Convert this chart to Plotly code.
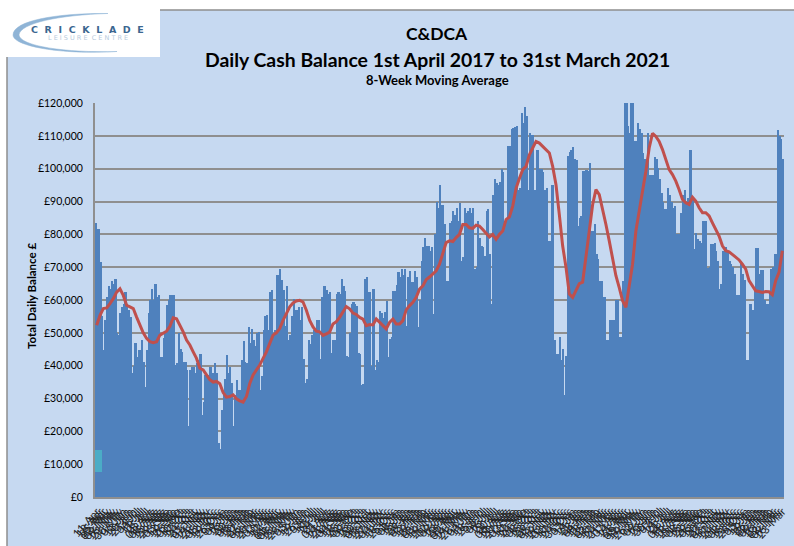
import pandas as pd
import plotly.graph_objects as go

W, H = 794, 546
dates = pd.date_range("2017-04-11", "2021-03-23", freq="7D")
tick_labels = [d.strftime("%d-%b") for d in dates]
week_index = list(range(len(dates)))

# Two readings per week (GBP thousands)
balance_k = [
 83.6,81.6, 81.6,71.5, 55,44.7, 53.8,60.9, 64.4,63.4, 65.9,64.9, 66.5,49.8, 49.3,56, 57.9,58.9, 62.4,58.9,
 56.9,54.8, 37.7,40, 46.8,42.7, 44.7,44.7, 47.8,41, 33.6,44.7, 55.9,59.9, 63.4,60, 65,60.9, 61.4,42.7,
 42.7,48.3, 49.8,58.4, 60,61.4, 61.4,61.4, 40.2,40.7, 49.8,45.2, 44.2,41.2, 41.2,38.7, 21.5,38.7, 39.7,39.7,
 37.7,40.7, 41.7,43.7, 25,29, 37.2,37.2, 37.2,39.7, 37.7,37.7, 40.7,37.7, 16.5,14.5, 26.5,31.5, 36,43.2,
 37.7,39.7, 34.7,21.5, 31,35.7, 32.6,32.6, 41.7,47.5, 41,40.7, 51.8,47, 51.3,47.8, 46,50, 50.3,32.6,
 37,50.8, 55,55.4, 50.8,62.4, 62.9,49.8, 50.8,67.5, 67.5,69.5, 66,62.9, 52,64.4, 47.8,49.3, 55,60.4,
 57,56.9, 57.9,54, 57.9,42, 34.6,36, 47.8,46.5, 49.3,50.8, 50.3,53.8, 53.8,42, 60.8,64.3, 64.3,63,
 61.8,62.3, 44,47.7, 47.7,61.8, 62.3,61.8, 66.4,64.3, 62.8,43, 42.6,50, 58.8,59.3, 58.8,58.3, 44,43.6,
 34,34.5, 66.4,66.9, 62.3,62.3, 40,63.3, 38.6,41.6, 41,56.8, 56,54.5, 56.3,59.8, 42.6,48, 48.7,62.8,
 62.8,64.5, 68.4,67, 69.4,67.5, 69.4,52.2, 67,68.9, 65.4,65.4, 68.9,67, 51.7,60, 72,76, 79,76.5,
 76.5,75, 76,55.8, 80,90, 88,95, 89,89, 83,65.9, 65.9,83.5, 84,87, 86,88, 84,89.5,
 71.9,73, 88,86.5, 87,88, 86.5,88, 69.4,70, 84,79, 76.5,76, 73.4,87, 87.6,74, 58.8,92,
 97,95.7, 95,96, 100,99, 84,84, 107,107, 112,112.5, 112.8,113, 93.6,94, 117,114, 118.9,116,
 93.5,111, 110.3,110.3, 93.6,105.8, 105.8,100, 100,99, 93.6,94, 78,78, 95,95, 47.7,43.6, 43.6,48.7,
 41.6,45, 31,43, 104,105, 105.7,106.5, 103,102.7, 82.5,85, 85.5,99.2, 99.2,99.5, 99.2,101.7, 81,81,
 83,74, 72.4,65.9, 65.9,60.8, 60.8,47.7, 47.7,53.9, 53.9,53.9, 53.9,60, 60,48.7, 48.7,65.9, 120,120,
 113,111, 120,120, 108.5,108.3, 114,112, 111,104.7, 103,99.5, 111,98.2, 98,98.2, 103.7,103, 100.2,97,
 92.6,90, 87.6,87.6, 94,92, 90,88, 88.6,80, 80,80, 86.6,92, 93.6,90, 91,105.8, 105.8,91,
 75.5,80.5, 78.5,78, 77.5,84, 84,84, 69.9,70, 77,77, 77.5,75, 72,63.3, 65,75, 76,76,
 75,72, 71,70, 68,61.6, 61.6,61.6, 71.9,68, 66,41.6, 41.6,58.8, 58.8,57, 62.8,75.8, 75.8,68,
 69,69, 60,58.8, 58.8,62, 69.4,70, 73.9,74, 111.8,110, 109,103,
]
moving_average_k = [
 52.3,55.3,57.4,57.6,58.9,60.4,62.4,63.4,61.4,58.4,57.9,57.4,54.8,52.3,50,48.3,47.3,47,47.3,49.3,
 50,50.5,52,54.6,54.3,52.3,50.3,47.8,46.3,44.2,42.2,39.2,38.7,37.2,35.7,35,35.2,34.5,31.8,30.4,
 30.6,31.1,29.9,29.3,28.9,30.6,34.6,37.2,38.7,40.2,42.2,44.2,46.8,49.3,50,51.3,53.8,55.9,57.9,59.1,
 59.7,59.9,59.4,56.9,53.8,51.8,50.5,50.3,49.2,49.7,50.2,52.7,53.4,54.7,56.3,58,57.3,56,55.6,54.7,
 54.2,52.2,52.5,52.4,54.2,53.2,51.9,51.2,53.2,54.2,52.7,52.7,53.7,57,58.3,59.3,60.8,63.3,64.3,66.2,
 67,67.9,68.9,70.9,73.9,77.5,78,77.8,79,80,83,83,82,81.8,82.8,82.5,81.5,80.2,79.2,80,
 78.5,80,81,84.5,85.3,88.6,94,97,99.7,100.7,104.2,106.3,108.3,107.8,106.8,105.5,104.8,100.7,95.1,86,
 76.5,70,61.8,60.8,62.8,65,65.4,73.9,81,89,93.6,92.1,87,83,78,72.4,67.4,63.8,59.8,57.8,
 63.8,70.9,81,87,92.1,99.2,106.3,110.8,109.8,108.3,105.8,102.7,99.7,98.2,96.2,93.6,90.6,89.6,89.1,91.3,
 90.1,88.1,86.6,86.6,85.6,83.5,81.5,79.5,76.5,75,74.7,73.9,73.2,72.2,70.9,69.4,65.9,64.3,62.8,62.6,
 62.3,62.6,62.5,61.6,65.9,68.4,75,
]
teal_base_k = [7.6, 7.6]
teal_height_k = [6.7, 6.7]
y_ticks = [0, 10, 20, 30, 40, 50, 60, 70, 80, 90, 100, 110, 120]

FONT = "Lato"
BG = "#c6d9f1"
GREY = "#8f8f8f"

def px(x):
    return x / W

def py(y):
    return 1 - y / H

def pt(x, y):
    return f"{px(x):.4f},{py(y):.4f}"

def pixel_text(text, x, y, size, color="#000000", bold=True, font=FONT):
    return dict(text=f"<b>{text}</b>" if bold else text, x=px(x), y=py(y), xref="paper", yref="paper",
                showarrow=False, xanchor="center", yanchor="middle",
                font=dict(family=font, size=size, color=color))

def spaced(text, gap):
    return gap.join(text)

half_x = [(j - 0.5) / 2 for j in range(len(balance_k))]

fig = go.Figure()
fig.add_bar(x=half_x, y=[v * 1000 for v in balance_k], marker=dict(color="#4f81bd", line_width=0), width=0.5)
fig.add_bar(x=[0, 1], y=[v * 1000 for v in teal_height_k], base=[v * 1000 for v in teal_base_k],
            marker=dict(color="#4bacc6", line_width=0), width=1.0)
fig.add_scatter(x=week_index, y=[v * 1000 for v in moving_average_k], mode="lines",
                line=dict(color="#c0504d", width=3))

crescent = (f"M {pt(108,13.5)} C {pt(60,13)} {pt(13,20)} {pt(13,35)} C {pt(13,46)} {pt(60,55)} {pt(117,51.5)} "
            f"C {pt(65,53)} {pt(20,46)} {pt(19,35)} C {pt(20,23)} {pt(60,15)} {pt(108,13.5)} Z")

fig.update_layout(
    width=W, height=H, autosize=False,
    margin=dict(l=0, r=0, t=0, b=0, pad=0),
    paper_bgcolor="#ffffff", plot_bgcolor="rgba(0,0,0,0)",
    showlegend=False, barmode="overlay", bargap=0,
    font=dict(family=FONT, color="#000000"),
    xaxis=dict(domain=[px(95), px(784)], range=[-0.5, len(week_index) - 0.5],
               tickmode="array", tickvals=week_index, ticktext=tick_labels, tickangle=-48,
               tickfont=dict(size=11, color="#222222"), ticklabelstandoff=2,
               showgrid=False, showline=True, linecolor=GREY, linewidth=2,
               ticks="", automargin=False, anchor="y", zeroline=False),
    yaxis=dict(domain=[py(497), py(103)], range=[0, 120000],
               tickmode="array", tickvals=[v * 1000 for v in y_ticks],
               ticktext=[f"£{v * 1000:,}" for v in y_ticks], tickfont=dict(size=10.5), ticklabelstandoff=8,
               showgrid=True, gridcolor=GREY, gridwidth=1.5, showline=True, linecolor=GREY, linewidth=2,
               zeroline=False, ticks="", automargin=False, anchor="x"),
    shapes=[
        dict(type="rect", xref="paper", yref="paper", layer="below", x0=px(7), x1=px(800), y0=py(10), y1=py(552),
             fillcolor=BG, line=dict(color=GREY, width=1.5)),
        dict(type="rect", xref="paper", yref="paper", layer="above", x0=0, x1=px(160), y0=py(0), y1=py(57),
             fillcolor="#ffffff", line_width=0),
        dict(type="path", xref="paper", yref="paper", layer="above", path=crescent,
             fillcolor="#8fb4d6", line=dict(color="#8fb4d6", width=0.5)),
    ],
    annotations=[
        pixel_text("C&amp;DCA", 437, 33, 17.5),
        pixel_text("Daily Cash Balance 1st April 2017 to 31st March 2021", 437, 59, 19.4),
        pixel_text("8-Week Moving Average", 438, 80, 13),
        dict(pixel_text("Total Daily Balance £", 31, 296, 11.5), textangle=-90),
        pixel_text(spaced("CRICKLADE", "\u00a0\u00a0"), 87, 29, 9.5, color="#3b6690", font="DejaVu Sans"),
        pixel_text(spaced("LEISURE", "\u00a0") + "\u00a0\u00a0" + spaced("CENTRE", "\u00a0"), 88, 38.5, 6.5,
                   color="#b8cbdd", bold=False, font="DejaVu Sans"),
    ],
)

fig.write_html("out.html", config={"displayModeBar": False},
               post_script="document.body.style.margin='0';document.body.style.overflow='hidden';")
